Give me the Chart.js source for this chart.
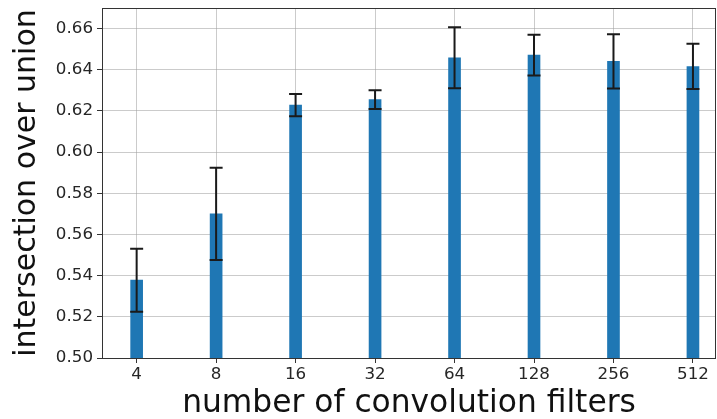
<!DOCTYPE html>
<html>
<head>
<meta charset="utf-8">
<script src="https://cdn.jsdelivr.net/npm/chart.js@4"></script>
<style>
  html, body { margin: 0; padding: 0; background: #fff; }
  #wrap { width: 717px; height: 419px; }
</style>
</head>
<body>
<div id="wrap"><canvas id="barChart" width="717" height="419"></canvas></div>
<script>
const filters = ["4", "8", "16", "32", "64", "128", "256", "512"];
const meanIou = [0.5378, 0.5700, 0.6228, 0.6255, 0.6458, 0.6471, 0.6441, 0.6416];
const stdIou = [0.0153, 0.0224, 0.0054, 0.0046, 0.0148, 0.0099, 0.0132, 0.0110];
const yTicks = [0.50, 0.52, 0.54, 0.56, 0.58, 0.60, 0.62, 0.64, 0.66];

const textColor = "#262626";
const gridColor = "rgba(160,160,160,0.55)";

// caps + whiskers for each bar, plus the box around the axes
const errorBars = {
    id: "errorBars",
    afterDatasetsDraw(chart) {
        const ctx = chart.ctx;
        const x = chart.scales.x, y = chart.scales.y;
        ctx.save();
        ctx.strokeStyle = "#1a1a1a";
        ctx.lineWidth = 2;
        meanIou.forEach((m, i) => {
            const px = x.getPixelForValue(i);
            const top = y.getPixelForValue(m + stdIou[i]);
            const bot = y.getPixelForValue(m - stdIou[i]);
            ctx.beginPath();
            ctx.moveTo(px, top); ctx.lineTo(px, bot);
            ctx.moveTo(px - 6.5, top); ctx.lineTo(px + 6.5, top);
            ctx.moveTo(px - 6.5, bot); ctx.lineTo(px + 6.5, bot);
            ctx.stroke();
        });
        ctx.restore();
    },
    afterDraw(chart) {
        const a = chart.chartArea;
        const ctx = chart.ctx;
        ctx.save();
        ctx.strokeStyle = "#333";
        ctx.lineWidth = 1;
        ctx.strokeRect(a.left + 0.5, a.top + 0.5, a.right - a.left - 1, a.bottom - a.top);
        ctx.restore();
    }
};

const ctx = document.getElementById("barChart").getContext("2d");
new Chart(ctx, {
    type: "bar",
    data: {
        datasets: [{
            data: meanIou.map((v, i) => ({ x: i, y: v })),
            backgroundColor: "#1f77b4",
            barThickness: 12
        }]
    },
    plugins: [errorBars],
    options: {
        responsive: false,
        animation: false,
        layout: { padding: { top: 8, right: 1, left: 0, bottom: 0 } },
        plugins: { legend: { display: false }, tooltip: { enabled: false } },
        scales: {
            x: {
                type: "linear",
                min: -0.436,
                max: 7.29,
                offset: false,
                z: 1,
                afterBuildTicks: s => { s.ticks = filters.map((f, i) => ({ value: i })); },
                afterFit: s => { s.height = 61; s.paddingLeft = 0; s.paddingRight = 0; },
                ticks: {
                    callback: (v) => filters[v],
                    color: textColor,
                    font: { family: "DejaVu Sans", size: 16.7 },
                    padding: 2,
                    maxRotation: 0,
                    autoSkip: false
                },
                grid: { color: gridColor, tickColor: "#333", tickLength: 5, offset: false },
                border: { display: false },
                title: {
                    display: true,
                    text: "number of convolution filters",
                    color: "#111",
                    font: { family: "DejaVu Sans", size: 31.3, lineHeight: 0.95 },
                    padding: { top: 0, bottom: 0 }
                }
            },
            y: {
                min: 0.5,
                max: 0.67,
                z: 1,
                afterBuildTicks: s => { s.ticks = yTicks.map(v => ({ value: v })); },
                afterFit: s => { s.width = 102; s.paddingTop = 0; s.paddingBottom = 0; },
                ticks: {
                    callback: (v) => v.toFixed(2),
                    color: textColor,
                    font: { family: "DejaVu Sans", size: 16.7 },
                    padding: 4
                },
                grid: { color: gridColor, tickColor: "#333", tickLength: 5 },
                border: { display: false },
                title: {
                    display: true,
                    text: "intersection over union",
                    color: "#111",
                    font: { family: "DejaVu Sans", size: 30 },
                    padding: { top: 9, bottom: 0 }
                }
            }
        }
    }
});
</script>
</body>
</html>
